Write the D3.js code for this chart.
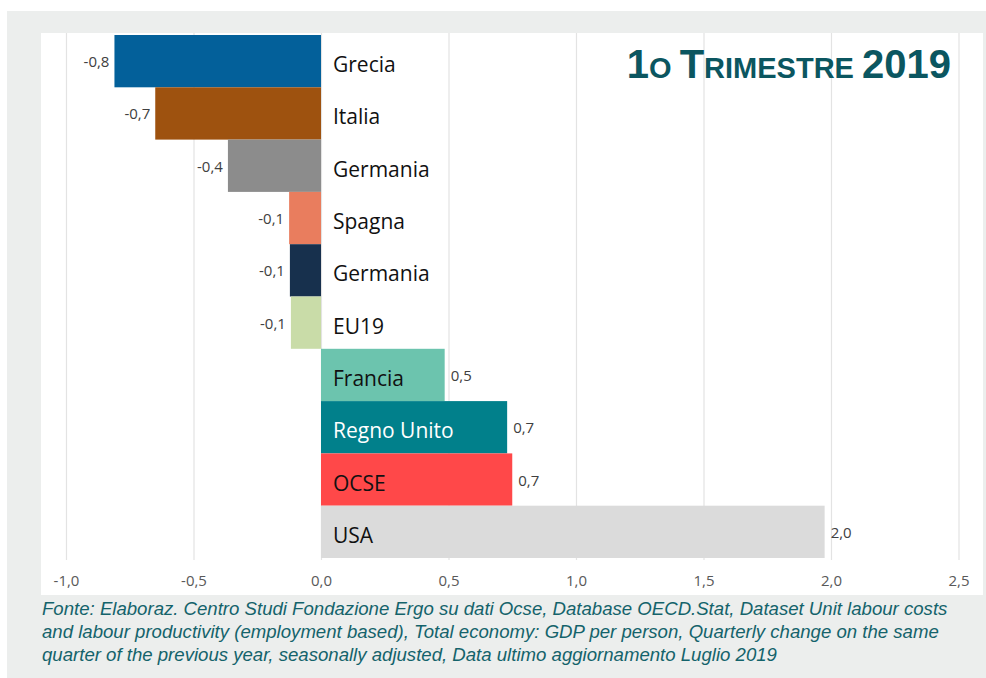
<!DOCTYPE html>
<html>
<head>
<meta charset="utf-8">
<script src="https://cdn.jsdelivr.net/npm/d3@7"></script>
<style>
    body { margin: 0; background: #ffffff; }
    svg { display: block; }
</style>
</head>
<body>
<svg id="my-svg"></svg>
<script>
const categories = ["Grecia", "Italia", "Germania", "Spagna", "Germania", "EU19", "Francia", "Regno Unito", "OCSE", "USA"];
const values = [-0.81, -0.65, -0.365, -0.125, -0.122, -0.118, 0.485, 0.73, 0.75, 1.975];
const valueLabels = ["-0,8", "-0,7", "-0,4", "-0,1", "-0,1", "-0,1", "0,5", "0,7", "0,7", "2,0"];
const barColors = ["#03609a", "#9e520f", "#8c8c8c", "#e97d5e", "#17304d", "#c9dca8", "#6cc4ae", "#01808b", "#ff4849", "#dbdbdb"];
const xTicks = [-1.0, -0.5, 0.0, 0.5, 1.0, 1.5, 2.0, 2.5];
const sourceLines = [
    "Fonte: Elaboraz. Centro Studi Fondazione Ergo su dati Ocse, Database OECD.Stat, Dataset Unit labour costs",
    "and labour productivity (employment based), Total economy: GDP per person, Quarterly change on the same",
    "quarter of the previous year, seasonally adjusted, Data ultimo aggiornamento Luglio 2019"
];

const width = 986;
const height = 678;

const data = categories.map((name, i) => ({ name: name, value: values[i], label: valueLabels[i], color: barColors[i] }));

const svg = d3.select("#my-svg")
    .attr("width", width)
    .attr("height", height);

// outer grey frame and white plot panel
svg.append("rect")
    .attr("x", 7).attr("y", 11)
    .attr("width", width - 7).attr("height", height - 11)
    .attr("fill", "#eceeed");

svg.append("rect")
    .attr("x", 41).attr("y", 33)
    .attr("width", 942).attr("height", 562)
    .attr("fill", "#ffffff");

const x = d3.scaleLinear()
    .domain([-1, 2.5])
    .range([66, 958.5]);

const y = d3.scaleBand()
    .domain(d3.range(data.length))
    .range([35, 558])
    .padding(0);

// gridlines
svg.append("g")
    .attr("class", "gridlines-x")
    .attr("transform", "translate(0,560)")
    .call(d3.axisBottom(x)
        .tickValues(xTicks)
        .tickSize(-527)
        .tickFormat(""))
    .call(g => g.select(".domain").remove())
    .selectAll("line")
    .style("stroke", "#e3e3e3")
    .style("stroke-width", 1.2);

// bars
svg.append("g")
    .selectAll("rect")
    .data(data)
    .enter().append("rect")
    .attr("x", d => x(Math.min(0, d.value)))
    .attr("y", (d, i) => y(i))
    .attr("width", d => Math.abs(x(d.value) - x(0)))
    .attr("height", y.bandwidth())
    .attr("fill", d => d.color);

// value labels
svg.append("g")
    .selectAll("text")
    .data(data)
    .enter().append("text")
    .attr("x", d => d.value < 0 ? x(d.value) - 5 : x(d.value) + 6)
    .attr("y", (d, i) => y(i) + y.bandwidth() / 2 + 6)
    .attr("text-anchor", d => d.value < 0 ? "end" : "start")
    .style("font-family", "'Open Sans', sans-serif")
    .style("font-size", "15px")
    .style("fill", "#404040")
    .text(d => d.label);

// category labels
svg.append("g")
    .selectAll("text")
    .data(data)
    .enter().append("text")
    .attr("x", x(0) + 12)
    .attr("y", (d, i) => y(i) + y.bandwidth() / 2 + 11)
    .style("font-family", "'Open Sans', sans-serif")
    .style("font-size", "21px")
    .style("fill", d => d.name === "Regno Unito" ? "#ffffff" : "#111111")
    .text(d => d.name);

// x axis labels
svg.append("g")
    .attr("transform", "translate(0,560)")
    .call(d3.axisBottom(x)
        .tickValues(xTicks)
        .tickSize(0)
        .tickPadding(15)
        .tickFormat(d => d3.format(".1f")(d).replace(".", ",").replace("−", "-")))
    .call(g => g.select(".domain").remove())
    .selectAll("text")
    .style("font-family", "'Open Sans', sans-serif")
    .style("font-size", "15px")
    .style("fill", "#595959");

// title
const title = svg.append("text")
    .attr("x", 951)
    .attr("y", 78)
    .attr("text-anchor", "end")
    .style("font-family", "'Liberation Sans', Arial, sans-serif")
    .style("font-weight", "bold")
    .style("font-size", "40px")
    .style("fill", "#0b5660");
title.append("tspan").text("1");
title.append("tspan").style("font-size", "29px").text("O ");
title.append("tspan").text("T");
title.append("tspan").style("font-size", "29px").text("RIMESTRE ");
title.append("tspan").text("2019");

// source note
svg.append("g")
    .selectAll("text")
    .data(sourceLines)
    .enter().append("text")
    .attr("x", 42)
    .attr("y", (d, i) => 615 + i * 23)
    .style("font-family", "'Liberation Sans', Arial, sans-serif")
    .style("font-style", "italic")
    .style("font-size", "18.6px")
    .style("fill", "#14636b")
    .text(d => d);
</script>
</body>
</html>
